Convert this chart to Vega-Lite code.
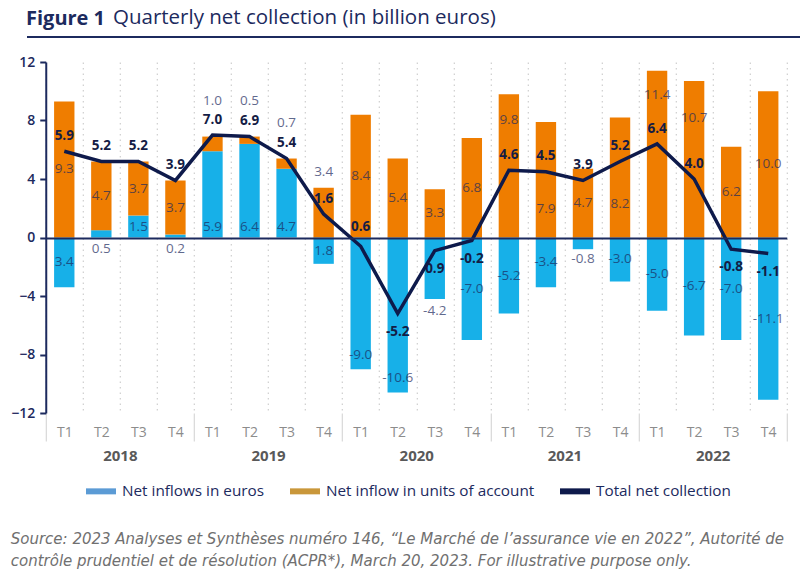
{
  "$schema": "https://vega.github.io/schema/vega-lite/v6.json",
  "padding": {"left": 10, "top": 8, "right": 10, "bottom": 0},
  "spacing": 16,
  "center": true,
  "config": {
    "font": "Open Sans",
    "view": {"stroke": null},
    "legend": {"layout": {"bottom": {"anchor": "middle"}}}
  },
  "title": {
    "text": [
      "Source: 2023 Analyses et Synthèses numéro 146, “Le Marché de l’assurance vie en 2022”, Autorité de",
      "contrôle prudentiel et de résolution (ACPR*), March 20, 2023. For illustrative purpose only."
    ],
    "orient": "bottom",
    "anchor": "start",
    "frame": "bounds",
    "font": "DejaVu Sans",
    "fontStyle": "italic",
    "fontWeight": "normal",
    "fontSize": 15,
    "color": "#707070",
    "lineHeight": 22,
    "offset": 32
  },
  "datasets": {
    "bars": [
      {"key": "2018 T1", "year": "2018", "series": "Net inflows in euros", "value": -3.4, "label": "3.4"},
      {"key": "2018 T1", "year": "2018", "series": "Net inflow in units of account", "value": 9.3, "label": "9.3"},
      {"key": "2018 T2", "year": "2018", "series": "Net inflows in euros", "value": 0.5, "label": "0.5"},
      {"key": "2018 T2", "year": "2018", "series": "Net inflow in units of account", "value": 4.7, "label": "4.7"},
      {"key": "2018 T3", "year": "2018", "series": "Net inflows in euros", "value": 1.5, "label": "1.5"},
      {"key": "2018 T3", "year": "2018", "series": "Net inflow in units of account", "value": 3.7, "label": "3.7"},
      {"key": "2018 T4", "year": "2018", "series": "Net inflows in euros", "value": 0.2, "label": "0.2"},
      {"key": "2018 T4", "year": "2018", "series": "Net inflow in units of account", "value": 3.7, "label": "3.7"},
      {"key": "2019 T1", "year": "2019", "series": "Net inflows in euros", "value": 5.9, "label": "5.9"},
      {"key": "2019 T1", "year": "2019", "series": "Net inflow in units of account", "value": 1.0, "label": "1.0"},
      {"key": "2019 T2", "year": "2019", "series": "Net inflows in euros", "value": 6.4, "label": "6.4"},
      {"key": "2019 T2", "year": "2019", "series": "Net inflow in units of account", "value": 0.5, "label": "0.5"},
      {"key": "2019 T3", "year": "2019", "series": "Net inflows in euros", "value": 4.7, "label": "4.7"},
      {"key": "2019 T3", "year": "2019", "series": "Net inflow in units of account", "value": 0.7, "label": "0.7"},
      {"key": "2019 T4", "year": "2019", "series": "Net inflows in euros", "value": -1.8, "label": "1.8"},
      {"key": "2019 T4", "year": "2019", "series": "Net inflow in units of account", "value": 3.4, "label": "3.4"},
      {"key": "2020 T1", "year": "2020", "series": "Net inflows in euros", "value": -9.0, "label": "-9.0"},
      {"key": "2020 T1", "year": "2020", "series": "Net inflow in units of account", "value": 8.4, "label": "8.4"},
      {"key": "2020 T2", "year": "2020", "series": "Net inflows in euros", "value": -10.6, "label": "-10.6"},
      {"key": "2020 T2", "year": "2020", "series": "Net inflow in units of account", "value": 5.4, "label": "5.4"},
      {"key": "2020 T3", "year": "2020", "series": "Net inflows in euros", "value": -4.2, "label": "-4.2"},
      {"key": "2020 T3", "year": "2020", "series": "Net inflow in units of account", "value": 3.3, "label": "3.3"},
      {"key": "2020 T4", "year": "2020", "series": "Net inflows in euros", "value": -7.0, "label": "-7.0"},
      {"key": "2020 T4", "year": "2020", "series": "Net inflow in units of account", "value": 6.8, "label": "6.8"},
      {"key": "2021 T1", "year": "2021", "series": "Net inflows in euros", "value": -5.2, "label": "-5.2"},
      {"key": "2021 T1", "year": "2021", "series": "Net inflow in units of account", "value": 9.8, "label": "9.8"},
      {"key": "2021 T2", "year": "2021", "series": "Net inflows in euros", "value": -3.4, "label": "-3.4"},
      {"key": "2021 T2", "year": "2021", "series": "Net inflow in units of account", "value": 7.9, "label": "7.9"},
      {"key": "2021 T3", "year": "2021", "series": "Net inflows in euros", "value": -0.8, "label": "-0.8"},
      {"key": "2021 T3", "year": "2021", "series": "Net inflow in units of account", "value": 4.7, "label": "4.7"},
      {"key": "2021 T4", "year": "2021", "series": "Net inflows in euros", "value": -3.0, "label": "-3.0"},
      {"key": "2021 T4", "year": "2021", "series": "Net inflow in units of account", "value": 8.2, "label": "8.2"},
      {"key": "2022 T1", "year": "2022", "series": "Net inflows in euros", "value": -5.0, "label": "-5.0"},
      {"key": "2022 T1", "year": "2022", "series": "Net inflow in units of account", "value": 11.4, "label": "11.4"},
      {"key": "2022 T2", "year": "2022", "series": "Net inflows in euros", "value": -6.7, "label": "-6.7"},
      {"key": "2022 T2", "year": "2022", "series": "Net inflow in units of account", "value": 10.7, "label": "10.7"},
      {"key": "2022 T3", "year": "2022", "series": "Net inflows in euros", "value": -7.0, "label": "-7.0"},
      {"key": "2022 T3", "year": "2022", "series": "Net inflow in units of account", "value": 6.2, "label": "6.2"},
      {"key": "2022 T4", "year": "2022", "series": "Net inflows in euros", "value": -11.1, "label": "-11.1"},
      {"key": "2022 T4", "year": "2022", "series": "Net inflow in units of account", "value": 10.0, "label": "10.0"}
    ],
    "totals": [
      {"key": "2018 T1", "total": 5.9, "label": "5.9"},
      {"key": "2018 T2", "total": 5.2, "label": "5.2"},
      {"key": "2018 T3", "total": 5.2, "label": "5.2"},
      {"key": "2018 T4", "total": 3.9, "label": "3.9"},
      {"key": "2019 T1", "total": 7.0, "label": "7.0"},
      {"key": "2019 T2", "total": 6.9, "label": "6.9"},
      {"key": "2019 T3", "total": 5.4, "label": "5.4"},
      {"key": "2019 T4", "total": 1.6, "label": "1.6"},
      {"key": "2020 T1", "total": -0.6, "label": "0.6"},
      {"key": "2020 T2", "total": -5.2, "label": "-5.2"},
      {"key": "2020 T3", "total": -0.9, "label": "0.9"},
      {"key": "2020 T4", "total": -0.2, "label": "-0.2"},
      {"key": "2021 T1", "total": 4.6, "label": "4.6"},
      {"key": "2021 T2", "total": 4.5, "label": "4.5"},
      {"key": "2021 T3", "total": 3.9, "label": "3.9"},
      {"key": "2021 T4", "total": 5.2, "label": "5.2"},
      {"key": "2022 T1", "total": 6.4, "label": "6.4"},
      {"key": "2022 T2", "total": 4.0, "label": "4.0"},
      {"key": "2022 T3", "total": -0.8, "label": "-0.8"},
      {"key": "2022 T4", "total": -1.1, "label": "-1.1"}
    ]
  },
  "vconcat": [
    {
      "width": 778,
      "height": 2,
      "title": {
        "text": "Figure 1",
        "subtitle": "Quarterly net collection (in billion euros)",
        "anchor": "start",
        "font": "Open Sans",
        "fontSize": 20,
        "fontWeight": "bold",
        "color": "#1c2a5e",
        "subtitleFont": "Open Sans",
        "subtitleFontSize": 20.5,
        "subtitleFontWeight": "normal",
        "subtitleColor": "#1c2a5e",
        "subtitlePadding": -20.5,
        "offset": 7,
        "encode": {"subtitle": {"update": {"dx": {"value": 87}}}}
      },
      "data": {"values": [{}]},
      "mark": {"type": "rule", "color": "#1c2a5e", "strokeWidth": 2},
      "encoding": {"y": {"datum": 0, "type": "quantitative", "axis": null}}
    },
    {
      "width": 741,
      "height": 351,
      "layer": [
        {
          "layer": [
            {
              "data": {"name": "bars"},
              "mark": {"type": "bar", "width": {"band": 0.55}},
              "encoding": {
                "x": {
                  "field": "key",
                  "type": "ordinal",
                  "scale": {"paddingInner": 0, "paddingOuter": 0},
                  "axis": {
                    "title": null,
                    "domain": false,
                    "ticks": false,
                    "labelExpr": "split(datum.value, ' ')[1]",
                    "labelColor": "#8c8c8c",
                    "labelFontSize": 14,
                    "labelPadding": 12,
                    "labelAngle": 0,
                    "grid": true,
                    "tickBand": "extent",
                    "gridDash": [1.5, 4],
                    "gridColor": "#c4c4c4",
                    "gridWidth": 1
                  }
                },
                "y": {
                  "field": "value",
                  "type": "quantitative",
                  "stack": "zero",
                  "scale": {"domain": [-12, 12], "nice": false},
                  "axis": {
                    "title": null,
                    "values": [-12, -8, -4, 0, 4, 8, 12],
                    "domainColor": "#1c2a5e",
                    "domainWidth": 2,
                    "tickColor": "#1c2a5e",
                    "tickWidth": 2,
                    "tickSize": 6,
                    "labelColor": "#1c2a5e",
                    "labelFontSize": 14,
                    "labelFontWeight": 600,
                    "labelPadding": 5,
                    "grid": true,
                    "gridColor": {"condition": {"test": "datum.value === 0", "value": "#1c2a5e"}, "value": "transparent"},
                    "gridWidth": 2,
                    "zindex": 1
                  }
                },
                "fill": {
                  "field": "series",
                  "type": "nominal",
                  "scale": {
                    "domain": ["Net inflows in euros", "Net inflow in units of account"],
                    "range": ["#17b0e8", "#ef7d00"]
                  },
                  "legend": null
                },
                "order": {"field": "series", "sort": "descending"}
              }
            },
            {
              "data": {"name": "bars"},
              "mark": {"type": "text", "text": ""},
              "encoding": {
                "x": {"field": "key", "type": "ordinal"},
                "y": {"field": "value", "type": "quantitative"},
                "color": {
                  "field": "series",
                  "type": "nominal",
                  "scale": {
                    "domain": ["Net inflows in euros", "Net inflow in units of account", "Total net collection"],
                    "range": ["#5b9bd5", "#c9973a", "#0e1a4b"]
                  },
                  "legend": {
                    "title": null,
                    "orient": "bottom",
                    "direction": "horizontal",
                    "labelFont": "Open Sans",
                    "labelFontSize": 15.3,
                    "labelColor": "#1c2a5e",
                    "labelLimit": 0,
                    "symbolType": "M-1,-0.2H1V0.2H-1Z",
                    "symbolSize": 900,
                    "symbolStrokeWidth": 0,
                    "columnPadding": 25,
                    "labelOffset": 6,
                    "offset": 13
                  }
                }
              }
            },
            {
              "data": {"name": "bars"},
              "transform": [
                {"joinaggregate": [{"op": "sum", "field": "value", "as": "tot"}], "groupby": ["key"]},
                {"window": [{"op": "lead", "field": "tot", "as": "nextTot"}], "groupby": ["series"], "sort": [{"field": "key", "order": "ascending"}]},
                {"stack": "value", "groupby": ["key"], "sort": [{"field": "series", "order": "descending"}], "as": ["v0", "v1"]},
                {"calculate": "(datum.v0 + datum.v1) / 2", "as": "mid"},
                {"calculate": "datum.tot < 0 ? datum.tot - 1.25 : datum.tot + 1.05", "as": "tl"},
                {"calculate": "datum.series === 'Net inflow in units of account' ? (datum.value < 1.5 ? datum.v1 + 2.4 : ((datum.tot > 0 && datum.mid - datum.tot > -1.15 && datum.mid - datum.tot < 2) ? (datum.v1 - datum.tot - 1.7 > 2.5 ? (datum.tot + 1.7 + datum.v1) / 2 : (datum.tot - 0.6 - datum.v0 >= 1.5 ? (datum.v0 + datum.tot - 0.6) / 2 : datum.v1 + 1.1)) : datum.mid)) : (datum.value >= 1 ? 0.75 : (datum.value > 0 ? -0.8 : (datum.value > -1.5 ? datum.value - 0.65 : ((datum.tot < -2 || (datum.nextTot != null && datum.tot < 0 && datum.nextTot < datum.tot - 3)) ? datum.value + 1 : (abs(datum.mid - datum.tl) < 1.3 ? datum.value - 0.8 : datum.mid)))))", "as": "ly"}
              ],
              "mark": {"type": "text", "font": "Open Sans", "fontSize": 13.5, "baseline": "middle", "align": "center", "color": "#1c2a5e", "opacity": 0.7},
              "encoding": {
                "x": {"field": "key", "type": "ordinal"},
                "y": {"field": "ly", "type": "quantitative"},
                "text": {"field": "label"}
              }
            },
            {
              "data": {"name": "totals"},
              "mark": {"type": "line", "strokeWidth": 3.5},
              "encoding": {
                "x": {"field": "key", "type": "ordinal"},
                "y": {"field": "total", "type": "quantitative"},
                "color": {"datum": "Total net collection"}
              }
            },
            {
              "data": {"name": "totals"},
              "transform": [
                {"window": [{"op": "lead", "field": "total", "as": "next"}], "sort": [{"field": "key", "order": "ascending"}]},
                {"calculate": "(datum.total < 0 && datum.next != null && datum.next < datum.total - 3) ? 0.75 : (datum.total < 0 ? datum.total - 1.25 : datum.total + 1.05)", "as": "ly"}
              ],
              "mark": {"type": "text", "font": "Open Sans", "fontSize": 13.5, "fontWeight": "bold", "baseline": "middle", "align": "center", "color": "#141c45"},
              "encoding": {
                "x": {"field": "key", "type": "ordinal"},
                "y": {"field": "ly", "type": "quantitative"},
                "text": {"field": "label"}
              }
            }
          ]
        },
        {
          "data": {"name": "bars"},
          "mark": {"type": "rule", "strokeOpacity": 0},
          "encoding": {
            "x": {
              "field": "year",
              "type": "ordinal",
              "scale": {"paddingInner": 0, "paddingOuter": 0},
              "axis": {
                "orient": "bottom",
                "title": null,
                "domain": false,
                "grid": false,
                "ticks": true,
                "tickBand": "extent",
                "tickSize": 28,
                "tickColor": "#d0d0d0",
                "tickWidth": 1,
                "labelAngle": 0,
                "labelFont": "Open Sans",
                "labelFontWeight": "bold",
                "labelColor": "#595959",
                "labelFontSize": 15,
                "labelPadding": 7
              }
            }
          }
        }
      ],
      "resolve": {"scale": {"x": "independent"}, "axis": {"x": "independent"}}
    }
  ]
}
